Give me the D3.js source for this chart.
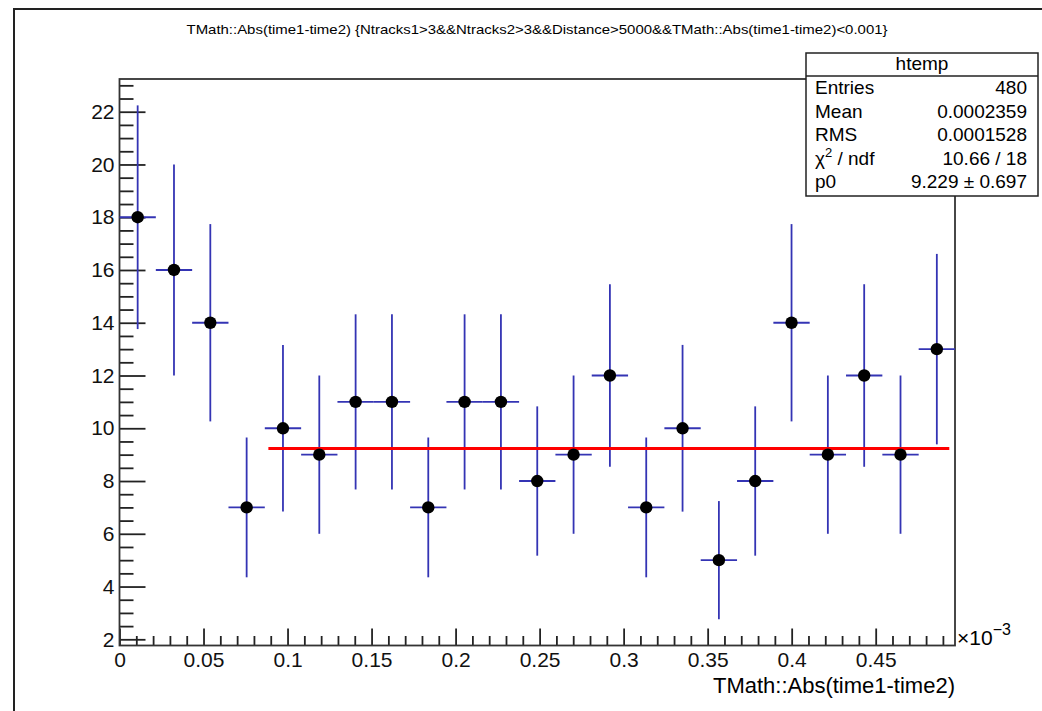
<html>
<head>
  <title>htemp</title>
  <style>
    body { margin: 0; background: white; }
    svg { font-family: "Liberation Sans", Arial, sans-serif; }
    .tick text { fill: #111; }
  </style>
  <script src="https://cdn.jsdelivr.net/npm/d3@7"></script>
</head>
<body>
<div id="chart"></div>
<script>
  // histogram contents (x in units of 1e-3)
  var xMax = 0.4972;
  var counts = [18, 16, 14, 7, 10, 9, 11, 11, 7, 11, 11, 8, 9, 12, 7, 10, 5, 8, 14, 9, 12, 9, 13];
  var errors = [4.24, 4.0, 3.74, 2.65, 3.16, 3.0, 3.32, 3.32, 2.65, 3.32, 3.32, 2.83, 3.0, 3.46, 2.65, 3.16, 2.24, 2.83, 3.74, 3.0, 3.46, 3.0, 3.61];

  // constant fit
  var fitValue = 9.229;
  var fitRange = [0.0886, 0.4938];

  var xMajor = [0, 0.05, 0.1, 0.15, 0.2, 0.25, 0.3, 0.35, 0.4, 0.45];
  var yMajor = [2, 4, 6, 8, 10, 12, 14, 16, 18, 20, 22];
  var yRange = [1.765, 23.24];

  var statLabels = ["Entries", "Mean", "RMS", "chi", "p0"];
  var statValues = ["480", "0.0002359", "0.0001528", "10.66 / 18", "9.229 \u00b1 0.697"];

  var W = 1042, H = 711;
  var svg = d3.select("#chart").append("svg")
      .attr("width", W)
      .attr("height", H);

  // canvas edge
  svg.append("path")
      .attr("d", "M14," + H + "V9H" + W)
      .attr("fill", "none")
      .attr("stroke", "#222")
      .attr("stroke-width", 2);

  var x = d3.scaleLinear().domain([0, xMax]).range([119.5, 955]);
  var y = d3.scaleLinear().domain(yRange).range([645.5, 79]);

  var binW = xMax / counts.length;
  var bins = counts.map(function(c, i) {
    return { lo: i * binW, hi: (i + 1) * binW, mid: (i + 0.5) * binW, v: c, e: errors[i] };
  });

  // minor ticks
  var xMinor = d3.range(0, xMax, 0.01).filter(function(v) {
    return Math.abs(v / 0.05 - Math.round(v / 0.05)) > 1e-6;
  });
  var yMinor = d3.range(2, yRange[1], 0.5).filter(function(v) { return v % 2 !== 0; });

  svg.append("g")
      .attr("transform", "translate(0,645.5)")
      .call(d3.axisBottom(x).tickValues(xMinor).tickSize(-9.5).tickFormat(""))
      .call(function(g) { g.select(".domain").remove(); });

  svg.append("g")
      .attr("transform", "translate(0,645.5)")
      .call(d3.axisBottom(x).tickValues(xMajor).tickSize(-17).tickPadding(7)
          .tickFormat(d3.format("~g")))
      .call(function(g) {
        g.select(".domain").remove();
        g.selectAll("text").style("font-size", "21px");
      });

  svg.append("g")
      .attr("transform", "translate(119.5,0)")
      .call(d3.axisLeft(y).tickValues(yMinor).tickSize(-14).tickFormat(""))
      .call(function(g) { g.select(".domain").remove(); });

  svg.append("g")
      .attr("transform", "translate(119.5,0)")
      .call(d3.axisLeft(y).tickValues(yMajor).tickSize(-26).tickPadding(5)
          .tickFormat(d3.format("d")))
      .call(function(g) {
        g.select(".domain").remove();
        g.selectAll("text").style("font-size", "21px");
      });

  svg.selectAll(".tick line").attr("stroke", "#222").attr("stroke-width", 1.8);

  // frame
  svg.append("rect")
      .attr("x", x(0))
      .attr("y", y(yRange[1]))
      .attr("width", x(xMax) - x(0))
      .attr("height", y(yRange[0]) - y(yRange[1]))
      .attr("fill", "none")
      .attr("stroke", "#333")
      .attr("stroke-width", 1.8);

  // error bars
  var blue = "#3434b4";
  var eb = svg.append("g").attr("stroke", blue).attr("stroke-width", 1.8);
  eb.selectAll("line.h").data(bins).enter().append("line")
      .attr("class", "h")
      .attr("x1", function(d) { return x(d.lo); })
      .attr("x2", function(d) { return x(d.hi); })
      .attr("y1", function(d) { return y(d.v); })
      .attr("y2", function(d) { return y(d.v); });
  eb.selectAll("line.v").data(bins).enter().append("line")
      .attr("class", "v")
      .attr("x1", function(d) { return x(d.mid); })
      .attr("x2", function(d) { return x(d.mid); })
      .attr("y1", function(d) { return y(d.v - d.e); })
      .attr("y2", function(d) { return y(d.v + d.e); });

  // fit
  svg.append("line")
      .attr("x1", x(fitRange[0]))
      .attr("x2", x(fitRange[1]))
      .attr("y1", y(fitValue))
      .attr("y2", y(fitValue))
      .attr("stroke", "#ff0000")
      .attr("stroke-width", 3);

  // markers
  svg.append("g").selectAll("circle").data(bins).enter().append("circle")
      .attr("cx", function(d) { return x(d.mid); })
      .attr("cy", function(d) { return y(d.v); })
      .attr("r", 6.2)
      .attr("fill", "black");

  // title
  svg.append("text")
      .attr("x", 537)
      .attr("y", 34)
      .attr("text-anchor", "middle")
      .attr("textLength", 701)
      .attr("lengthAdjust", "spacingAndGlyphs")
      .style("font-size", "13px")
      .text("TMath::Abs(time1-time2) {Ntracks1>3&&Ntracks2>3&&Distance>5000&&TMath::Abs(time1-time2)<0.001}");

  // axis title + exponent
  svg.append("text")
      .attr("x", 955)
      .attr("y", 693)
      .attr("text-anchor", "end")
      .style("font-size", "22px")
      .text("TMath::Abs(time1-time2)");

  var exp = svg.append("text")
      .attr("x", 957)
      .attr("y", 645)
      .style("font-size", "21px");
  exp.append("tspan").text("\u00d710");
  exp.append("tspan").attr("dy", -10).style("font-size", "16px").text("\u22123");

  // stats box
  var bx = 806, by = 53, bw = 232, bh = 143, headH = 23;
  var stats = svg.append("g");
  stats.append("rect")
      .attr("x", bx).attr("y", by).attr("width", bw).attr("height", bh)
      .attr("fill", "white").attr("stroke", "#222").attr("stroke-width", 1.5);
  stats.append("line")
      .attr("x1", bx).attr("x2", bx + bw)
      .attr("y1", by + headH).attr("y2", by + headH)
      .attr("stroke", "#222").attr("stroke-width", 1.5);
  stats.append("text")
      .attr("x", bx + bw / 2).attr("y", by + 17)
      .attr("text-anchor", "middle")
      .style("font-size", "19px")
      .text("htemp");

  var rowY = d3.scaleLinear().domain([0, statLabels.length - 1]).range([by + 41, by + 135]);
  stats.selectAll("text.lab").data(statLabels).enter().append("text")
      .attr("class", "lab")
      .attr("x", bx + 9)
      .attr("y", function(d, i) { return rowY(i); })
      .style("font-size", "19px")
      .each(function(d) {
        var t = d3.select(this);
        if (d === "chi") {
          t.append("tspan").text("\u03c7");
          t.append("tspan").attr("dy", -8).style("font-size", "13px").text("2");
          t.append("tspan").attr("dy", 8).text(" / ndf");
        } else {
          t.text(d);
        }
      });
  stats.selectAll("text.val").data(statValues).enter().append("text")
      .attr("class", "val")
      .attr("x", bx + bw - 11)
      .attr("y", function(d, i) { return rowY(i); })
      .attr("text-anchor", "end")
      .style("font-size", "19px")
      .text(function(d) { return d; });
</script>
</body>
</html>
